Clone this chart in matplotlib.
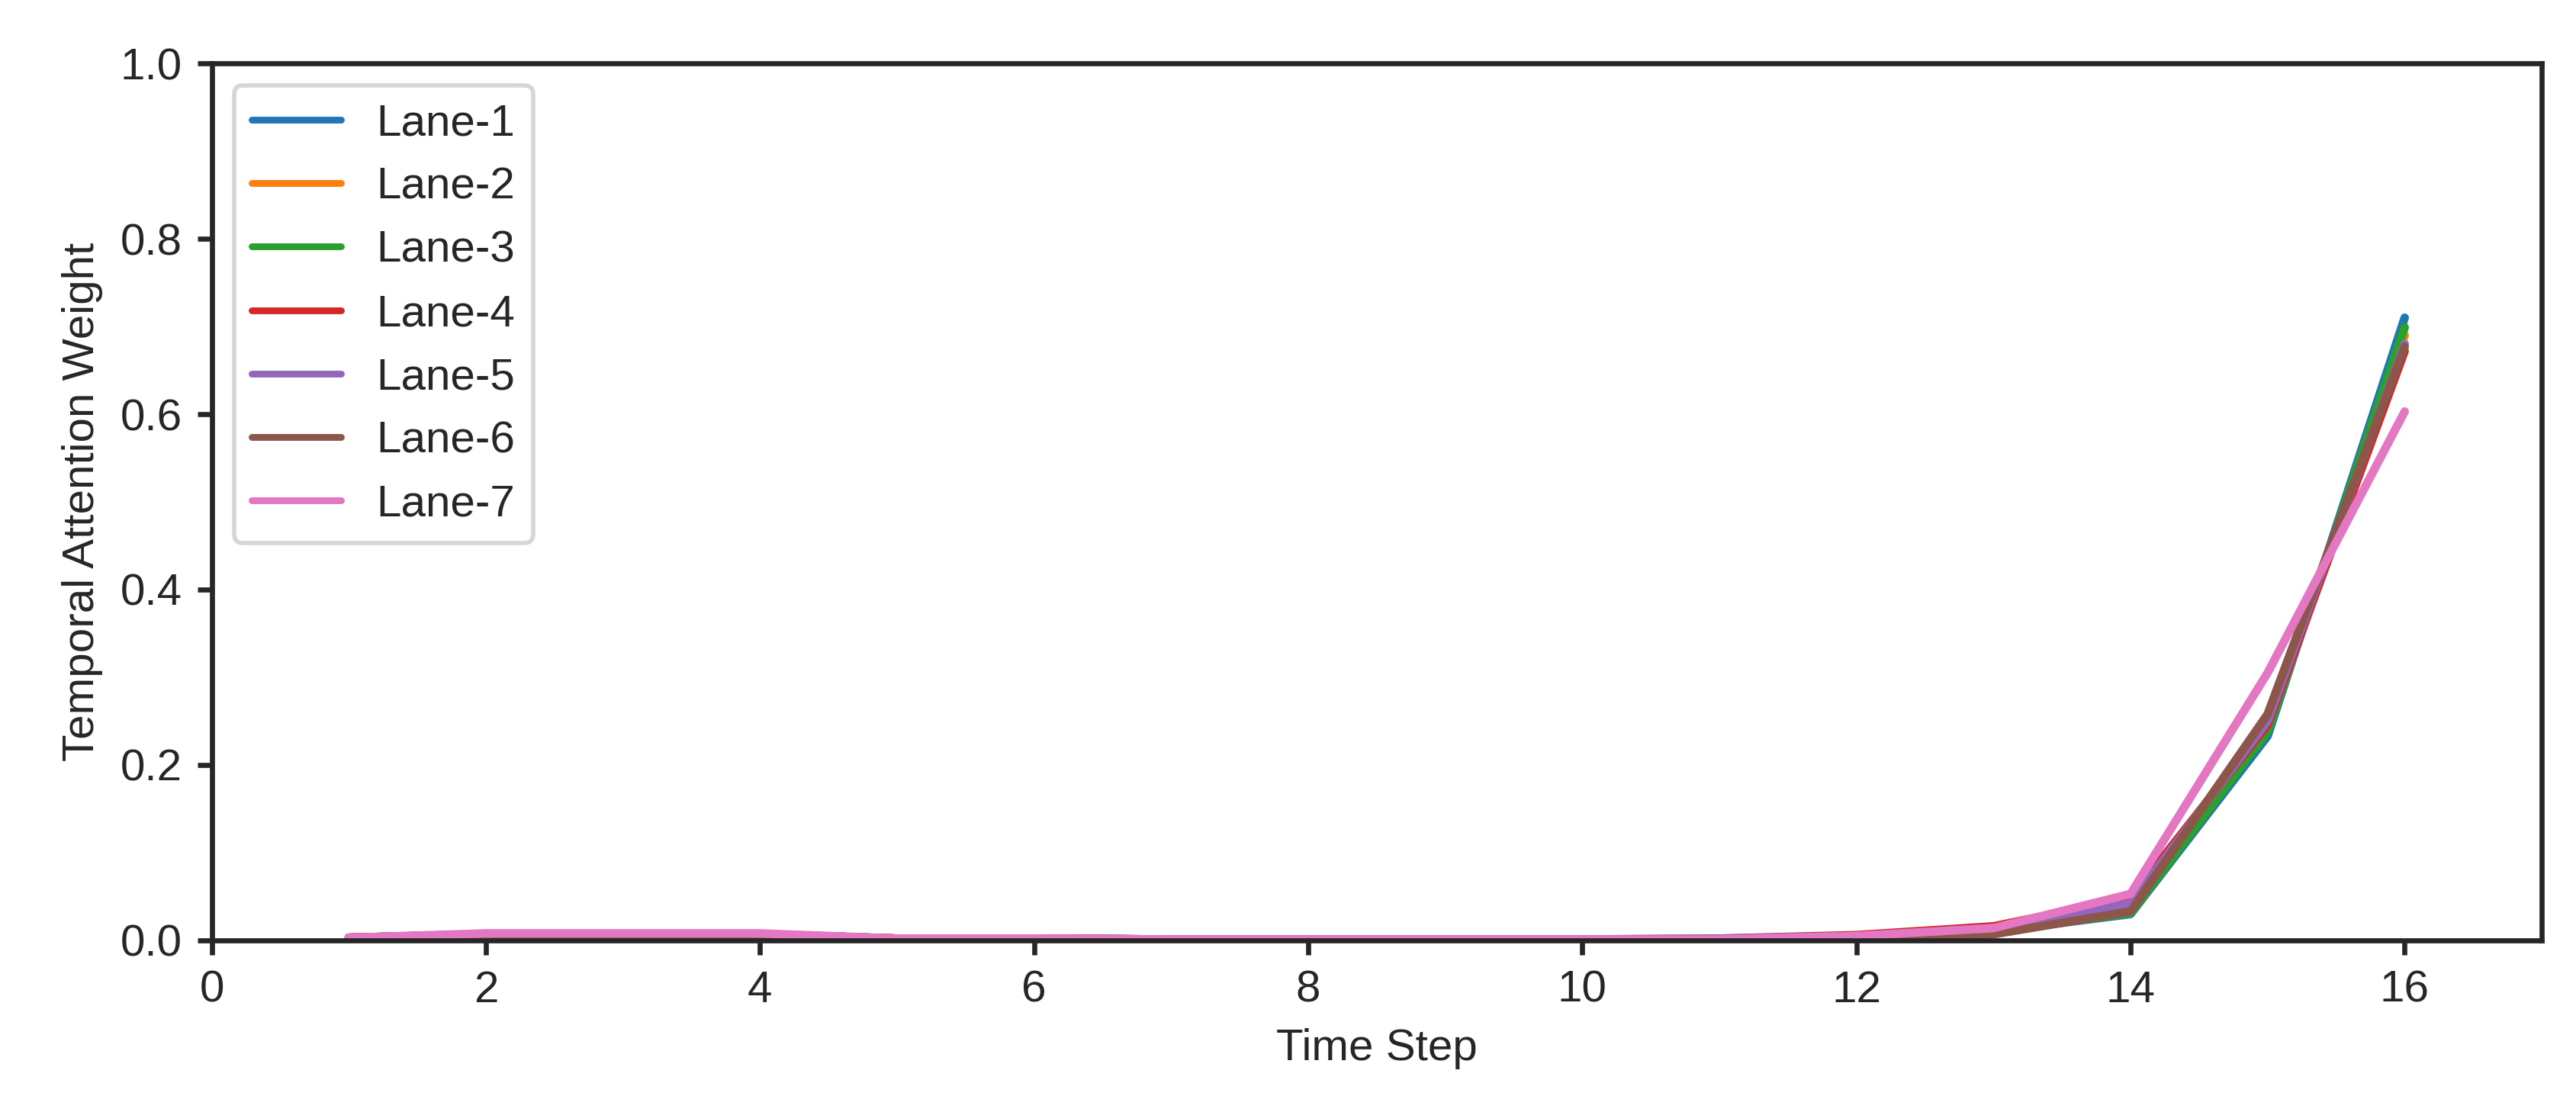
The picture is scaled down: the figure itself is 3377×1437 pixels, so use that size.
import numpy as np
import matplotlib
matplotlib.use("Agg")
import matplotlib.pyplot as plt
import seaborn as sns

# time steps and temporal attention weights per lane
steps = np.arange(1, 17)
lane_names = ["Lane-1", "Lane-2", "Lane-3", "Lane-4", "Lane-5", "Lane-6", "Lane-7"]

lane1 = [0.003, 0.007, 0.007, 0.007, 0.002, 0.002, 0.001, 0.001, 0.001, 0.001, 0.001, 0.004, 0.010, 0.030, 0.233, 0.710]
lane2 = [0.003, 0.007, 0.007, 0.007, 0.002, 0.002, 0.001, 0.001, 0.001, 0.001, 0.001, 0.004, 0.011, 0.032, 0.240, 0.690]
lane3 = [0.003, 0.007, 0.007, 0.007, 0.002, 0.002, 0.001, 0.001, 0.001, 0.001, 0.001, 0.004, 0.010, 0.031, 0.238, 0.699]
lane4 = [0.003, 0.007, 0.007, 0.007, 0.002, 0.002, 0.001, 0.001, 0.001, 0.001, 0.002, 0.006, 0.016, 0.048, 0.246, 0.672]
lane5 = [0.003, 0.007, 0.007, 0.007, 0.002, 0.002, 0.001, 0.001, 0.001, 0.001, 0.002, 0.005, 0.014, 0.042, 0.250, 0.680]
lane6 = [0.003, 0.007, 0.007, 0.007, 0.002, 0.002, 0.001, 0.001, 0.001, 0.001, 0.001, 0.002, 0.007, 0.033, 0.258, 0.677]
lane7 = [0.003, 0.008, 0.008, 0.008, 0.002, 0.002, 0.001, 0.001, 0.001, 0.001, 0.001, 0.005, 0.014, 0.053, 0.305, 0.603]

weights = [lane1, lane2, lane3, lane4, lane5, lane6, lane7]

sns.set_style("ticks")
plt.rcParams["font.family"] = ["Liberation Sans", "DejaVu Sans"]
plt.rcParams.update({
    "font.size": 10.5,
    "axes.labelsize": 10.5,
    "xtick.labelsize": 10.5,
    "ytick.labelsize": 10.5,
    "legend.fontsize": 10.5,
    "axes.linewidth": 1.2,
    "xtick.major.width": 1.2,
    "ytick.major.width": 1.2,
})

fig, ax = plt.subplots(figsize=(3377 / 400, 1437 / 400), dpi=400)
fig.subplots_adjust(left=0.0822, right=0.9867, bottom=0.142, top=0.9422)

for name, w in zip(lane_names, weights):
    ax.plot(steps, w, label=name, linewidth=2.0)

ax.set_xlim(0, 17)
ax.set_ylim(0, 1)
ax.set_xticks(np.arange(0, 17, 2))
ax.set_xlabel("Time Step")
ax.set_ylabel("Temporal Attention Weight")
leg = ax.legend(loc="upper left")
for h in leg.get_lines():
    h.set_linewidth(1.6)

fig.savefig("out.png", dpi=400)
